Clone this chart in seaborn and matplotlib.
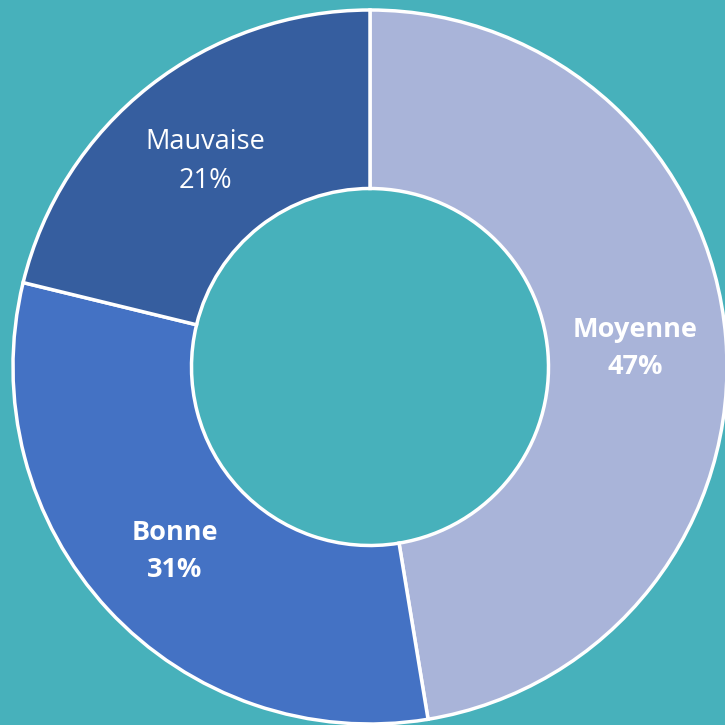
import matplotlib
matplotlib.use("Agg")
import matplotlib.pyplot as plt
import seaborn as sns
import numpy as np

categories = ["Moyenne", "Bonne", "Mauvaise"]
values = [47.4, 31.4, 21.2]
colors = ["#A9B4D9", "#4472C4", "#365E9F"]
bold = [True, True, False]

sns.set_theme(style="white")
plt.rcParams["font.family"] = ["Open Sans", "DejaVu Sans"]

bg = "#47B1BB"
fig = plt.figure(figsize=(7.25, 7.25), dpi=100, facecolor=bg)
ax = fig.add_axes([13 / 725, 1 / 725, 714 / 725, 714 / 725])
ax.set_facecolor(bg)

wedges, _ = ax.pie(
    values,
    colors=colors,
    startangle=90,
    counterclock=False,
    radius=1.0,
    wedgeprops=dict(width=0.5, edgecolor="white", linewidth=2.5),
)

total = sum(values)
for w, cat, v, b in zip(wedges, categories, values, bold):
    ang = np.deg2rad((w.theta1 + w.theta2) / 2)
    r = 0.745
    x, y = r * np.cos(ang), r * np.sin(ang) - 0.01
    ax.text(x, y, f"{cat}\n{round(v / total * 100):.0f}%", ha="center", va="center",
            color="white", fontsize=19.5, fontweight="bold" if b else "normal",
            linespacing=1.55)

ax.set_xlim(-1, 1)
ax.set_ylim(-1, 1)
ax.set_aspect("equal")
ax.axis("off")
fig.savefig("out.png", dpi=100, facecolor=bg)
